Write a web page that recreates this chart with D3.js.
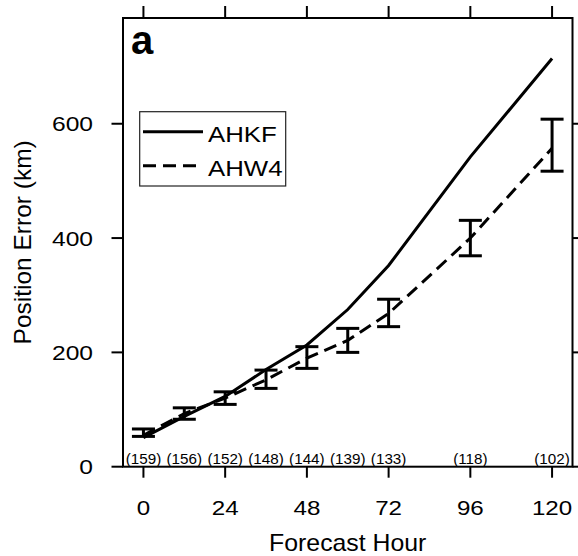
<!DOCTYPE html>
<html><head><meta charset="utf-8">
<script src="https://cdn.jsdelivr.net/npm/d3@7"></script>
<style>body{margin:0;background:#fff}svg{display:block}text{font-family:"Liberation Sans",Arial,sans-serif;fill:#000}</style>
</head><body>
<script>
const hours = [0, 12, 24, 36, 48, 60, 72, 96, 120];
const ahkf = [51, 88, 123, 170, 213, 275, 352, 542, 714];
const ahw4 = [55, 93, 120, 152, 190, 221, 268, 400, 557];
const errLo = [53, 83, 109, 137, 172, 200, 245, 369, 517];
const errHi = [66, 103, 131, 169, 210, 242, 293, 431, 608];
const counts = ["(159)", "(156)", "(152)", "(148)", "(144)", "(139)", "(133)", "(118)", "(102)"];
const xTicks = [0, 24, 48, 72, 96, 120];
const yTicks = [0, 200, 400, 600];
const seriesNames = ["AHKF", "AHW4"];

const W = 578, H = 556;
const L = 123, R = 572.5, T = 18, B = 466.7;
const svg = d3.select("body").append("svg").attr("width", W).attr("height", H);
const x = d3.scaleLinear().domain([-6, 126]).range([L, R]);
const y = d3.scaleLinear().domain([0, 785]).range([B, T]);

function stext(g, tx, ty, str, size, sx, anchor, weight) {
  return g.append("text").attr("transform", `translate(${tx},${ty}) scale(${sx},1)`)
    .attr("text-anchor", anchor || "start").attr("font-size", size)
    .attr("font-weight", weight || "normal").text(str);
}

// ticks
const tk = svg.append("g").attr("stroke", "#000").attr("stroke-width", 2);
xTicks.forEach(h => {
  tk.append("line").attr("x1", x(h)).attr("x2", x(h)).attr("y1", B).attr("y2", B + 11);
  tk.append("line").attr("x1", x(h)).attr("x2", x(h)).attr("y1", T).attr("y2", T - 12);
});
yTicks.forEach(v => {
  tk.append("line").attr("x1", L).attr("x2", L - 11.5).attr("y1", y(v)).attr("y2", y(v));
  tk.append("line").attr("x1", R).attr("x2", R + 11).attr("y1", y(v)).attr("y2", y(v));
});
// frame
svg.append("rect").attr("x", L).attr("y", T).attr("width", R - L).attr("height", B - T)
  .attr("fill", "none").attr("stroke", "#000").attr("stroke-width", 2);

// tick labels
xTicks.forEach(h => stext(svg, x(h), 515, String(h), 21, 1.15, "middle"));
yTicks.forEach(v => stext(svg, 93, y(v) + 7.5, String(v), 20.5, 1.2, "end"));

// axis titles
stext(svg, (L + R) / 2, 551, "Forecast Hour", 23, 1.08, "middle");
svg.append("text").attr("transform", `translate(31,${(T + B) / 2}) rotate(-90)`)
  .attr("text-anchor", "middle").attr("font-size", 24.5).text("Position Error (km)");

// panel label
svg.append("text").attr("x", 131).attr("y", 54).attr("font-size", 40).attr("font-weight", "bold").text("a");

// counts
hours.forEach((h, i) => stext(svg, x(h), 464, counts[i], 14.5, 1.05, "middle"));

// lines
const line = d3.line().x((d, i) => x(hours[i])).y(d => y(d));
svg.append("path").datum(ahkf).attr("d", line).attr("fill", "none")
  .attr("stroke", "#000").attr("stroke-width", 3);
svg.append("path").datum(ahw4).attr("d", line).attr("fill", "none")
  .attr("stroke", "#000").attr("stroke-width", 3).attr("stroke-dasharray", "13,7");

// error bars
const eb = svg.append("g").attr("stroke", "#000").attr("stroke-width", 3);
hours.forEach((h, i) => {
  const cx = x(h), w = 11.5;
  eb.append("line").attr("x1", cx).attr("x2", cx).attr("y1", y(errLo[i])).attr("y2", y(errHi[i]));
  eb.append("line").attr("x1", cx - w).attr("x2", cx + w).attr("y1", y(errLo[i])).attr("y2", y(errLo[i]));
  eb.append("line").attr("x1", cx - w).attr("x2", cx + w).attr("y1", y(errHi[i])).attr("y2", y(errHi[i]));
});

// legend
const lg = svg.append("g");
lg.append("rect").attr("x", 139.7).attr("y", 111.7).attr("width", 146).attr("height", 74.3)
  .attr("fill", "#fff").attr("stroke", "#222").attr("stroke-width", 1.2);
lg.append("line").attr("x1", 143).attr("x2", 203).attr("y1", 131.7).attr("y2", 131.7)
  .attr("stroke", "#000").attr("stroke-width", 3);
lg.append("line").attr("x1", 143).attr("x2", 200).attr("y1", 165.7).attr("y2", 165.7)
  .attr("stroke", "#000").attr("stroke-width", 3).attr("stroke-dasharray", "13,7");
stext(lg, 208, 141.5, seriesNames[0], 21.5, 1.2, "start");
stext(lg, 208, 175.5, seriesNames[1], 21.5, 1.2, "start");
</script>
</body></html>
